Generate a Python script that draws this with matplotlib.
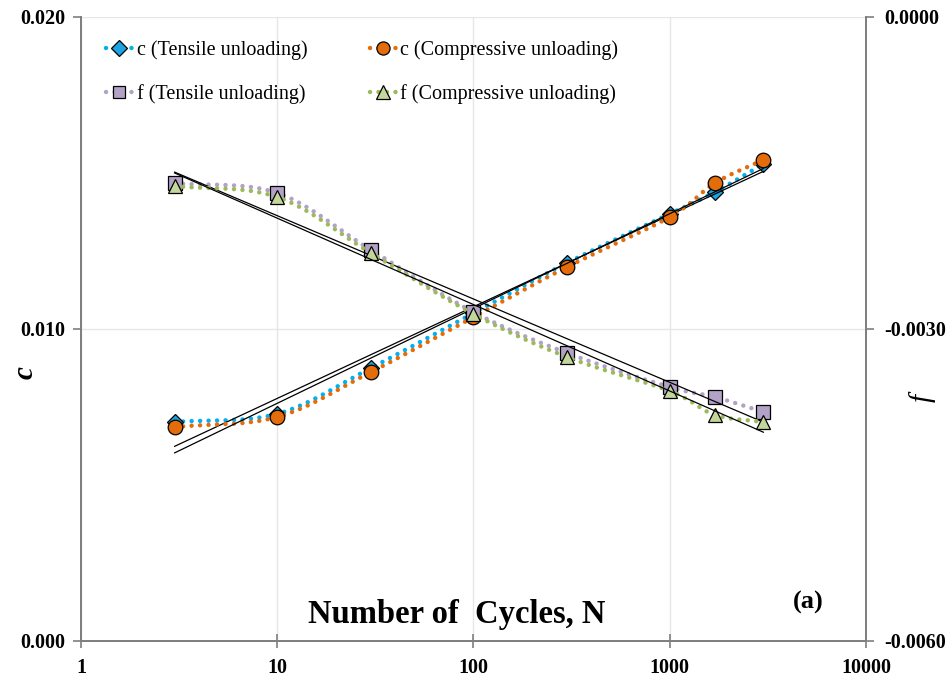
import numpy as np
import matplotlib
matplotlib.use("Agg")
import matplotlib.pyplot as plt
from matplotlib.ticker import FixedLocator, FixedFormatter, NullLocator

# ---------------- data ----------------
cycles = [3, 10, 30, 100, 300, 1000, 1700, 3000]
c_tensile = [0.00702, 0.00728, 0.00875, 0.01051, 0.01212, 0.01369, 0.01439, 0.01529]
c_compressive = [0.00686, 0.00718, 0.00862, 0.01038, 0.01199, 0.01359, 0.01468, 0.01542]
f_tensile = [-0.001596, -0.001692, -0.002240, -0.002837, -0.003231, -0.003558, -0.003654, -0.003798]
f_compressive = [-0.001625, -0.001731, -0.002269, -0.002856, -0.003270, -0.003596, -0.003827, -0.003894]

x_ticks = [1, 10, 100, 1000, 10000]
x_ticklabels = ["1", "10", "100", "1000", "10000"]
c_ticks = [0.000, 0.010, 0.020]
c_ticklabels = ["0.000", "0.010", "0.020"]
f_ticks = [-0.0060, -0.0030, 0.0000]
f_ticklabels = ["-0.0060", "-0.0030", "0.0000"]

SERIF = ["Liberation Serif", "DejaVu Serif"]
plt.rcParams["font.family"] = SERIF


def smooth(xs, ys, n=30):
    """Catmull-Rom curve through points in (log10 x, y) space."""
    lx = np.log10(np.asarray(xs, float))
    y = np.asarray(ys, float)
    P = np.column_stack([lx, y])
    P = np.vstack([P[0] - (P[1] - P[0]), P, P[-1] + (P[-1] - P[-2])])
    out = []
    for i in range(1, len(P) - 2):
        p0, p1, p2, p3 = P[i - 1], P[i], P[i + 1], P[i + 2]
        t = np.linspace(0, 1, n)[:, None]
        seg = 0.5 * ((2 * p1) + (-p0 + p2) * t + (2 * p0 - 5 * p1 + 4 * p2 - p3) * t ** 2
                     + (-p0 + 3 * p1 - 3 * p2 + p3) * t ** 3)
        out.append(seg if i == 1 else seg[1:])
    out = np.vstack(out)
    return 10 ** out[:, 0], out[:, 1]


def trend(xs, ys):
    lx = np.log10(np.asarray(xs, float))
    k, b = np.polyfit(lx, ys, 1)
    xx = np.array([xs[0], xs[-1]], float)
    return xx, k * np.log10(xx) + b


fig = plt.figure(figsize=(9.53, 6.82), dpi=100)
ax = fig.add_axes([81 / 953, 41 / 682, 785 / 953, 624 / 682])
ax2 = ax.twinx()

DOT = (0, (0.01, 1.9))

styles = {
    "cT": dict(line="#00B0F0", face="#1CA3E3", marker="D", ms=8.5),
    "cC": dict(line="#E46C0A", face="#E46C0A", marker="o", ms=10.5),
    "fT": dict(line="#B3A2C7", face="#B3A2C7", marker="s", ms=10),
    "fC": dict(line="#9BBB59", face="#C3D69B", marker="^", ms=10.5),
}


def draw(a, xs, ys, key, label, z):
    st = styles[key]
    sx, sy = smooth(xs, ys)
    a.plot(sx, sy, linestyle=DOT, color=st["line"], lw=3.2, dash_capstyle="round",
           zorder=z)
    a.plot(xs, ys, linestyle="none", marker=st["marker"], ms=st["ms"],
           mfc=st["face"], mec="black", mew=0.9, zorder=z + 1)
    tx, ty = trend(xs, ys)
    a.plot(tx, ty, color="black", lw=0.9, zorder=z + 2)
    h, = a.plot([], [], linestyle=DOT, color=st["line"], lw=3.2, dash_capstyle="round",
                marker=st["marker"], ms=st["ms"] * 0.9, mfc=st["face"], mec="black", mew=0.9,
                label=label)
    return h


h1 = draw(ax, cycles, c_tensile, "cT", "c (Tensile unloading)", 3)
h2 = draw(ax, cycles, c_compressive, "cC", "c (Compressive unloading)", 6)
h3 = draw(ax2, cycles, f_tensile, "fT", "f (Tensile unloading)", 3)
h4 = draw(ax2, cycles, f_compressive, "fC", "f (Compressive unloading)", 6)

for a in (ax, ax2):
    a.set_xscale("log")
    a.set_xlim(1, 10000)
ax.set_ylim(0, 0.020)
ax2.set_ylim(-0.006, 0.0)

ax.xaxis.set_major_locator(FixedLocator(x_ticks))
ax.xaxis.set_major_formatter(FixedFormatter(x_ticklabels))
ax.xaxis.set_minor_locator(NullLocator())
ax.yaxis.set_major_locator(FixedLocator(c_ticks))
ax.yaxis.set_major_formatter(FixedFormatter(c_ticklabels))
ax2.yaxis.set_major_locator(FixedLocator(f_ticks))
ax2.yaxis.set_major_formatter(FixedFormatter(f_ticklabels))

ax.grid(True, which="major", color="#E6E6E6", lw=1.0, zorder=0)
ax.set_axisbelow(True)

spine_c = "#7F7F7F"
for a in (ax, ax2):
    a.spines["top"].set_visible(False)
    for s in ("left", "right", "bottom"):
        a.spines[s].set_color(spine_c)
        a.spines[s].set_linewidth(1.3)

TICK_FS = 14.5
ax.tick_params(axis="x", direction="inout", length=10, width=1.2, color=spine_c, pad=7,
               labelsize=TICK_FS)
ax.tick_params(axis="y", direction="out", length=6, width=1.2, color=spine_c, pad=5,
               labelsize=TICK_FS)
ax2.tick_params(axis="y", direction="out", length=6, width=1.2, color=spine_c, pad=7,
                labelsize=TICK_FS)
for lab in ax.get_xticklabels() + ax.get_yticklabels() + ax2.get_yticklabels():
    lab.set_fontweight("bold")

ax.set_ylabel("c", fontsize=21, fontstyle="italic", fontweight="bold")
ax2.set_ylabel("f", fontsize=21, fontstyle="italic")
ax.yaxis.set_label_coords(-0.054, 0.43)
ax2.yaxis.set_label_coords(1.055, 0.39)

ax2.text(0.479, 0.043, "Number of  Cycles, N", transform=ax.transAxes, ha="center",
         va="center", fontsize=23.5, fontweight="bold", zorder=20)
ax2.text(0.926, 0.061, "(a)", transform=ax.transAxes, ha="center", va="center",
         fontsize=19, fontweight="bold", zorder=20)

leg = ax2.legend(handles=[h1, h3, h2, h4], ncol=2, loc="upper left",
                 bbox_to_anchor=(0.022, 0.975), frameon=False, fontsize=14.5,
                 handlelength=1.3, handletextpad=0.2, columnspacing=3.1,
                 labelspacing=1.2, borderaxespad=0.0)

fig.savefig("out.png", dpi=100)
